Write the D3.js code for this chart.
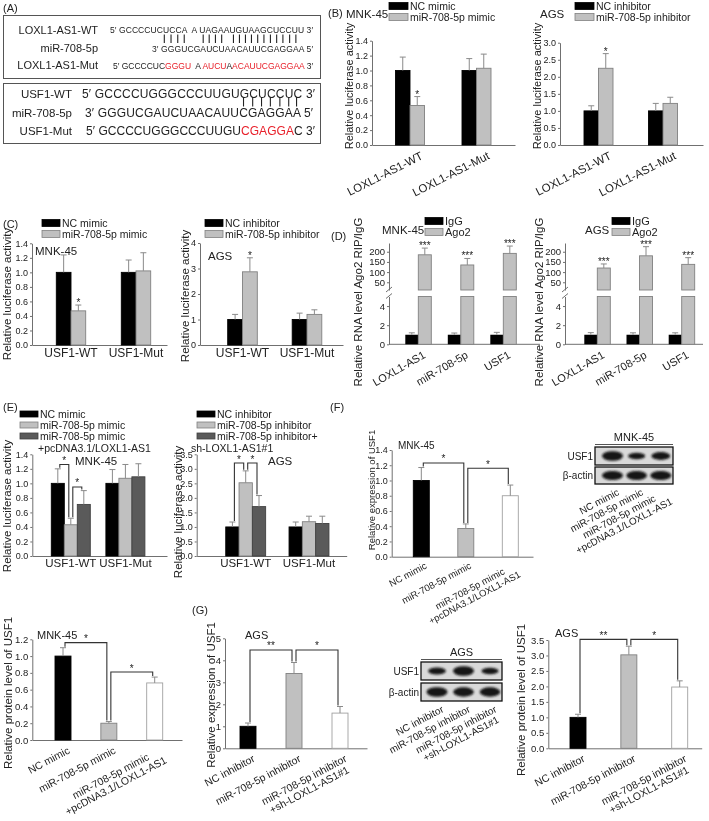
<!DOCTYPE html>
<html><head><meta charset="utf-8">
<script src="https://cdn.jsdelivr.net/npm/d3@7"></script>
<style>body{margin:0;background:#fff}svg{will-change:transform}text{font-family:Arial,"Liberation Sans",sans-serif;white-space:pre}</style>
</head><body><svg id="chart" width="709" height="821"></svg>
<script>
// ================= DATA =================
// (A) sequence alignment
const aBox1Labels = ["LOXL1-AS1-WT", "miR-708-5p", "LOXL1-AS1-Mut"];
const aBox1WT  = [["5′ GCCCCUCUCCA  A UAGAAUGUAAGCUCCUU 3′", 0]];
const aBox1Mir = [["3′ GGGUCGAUCUAACAUUCGAGGAA 5′", 0]];
const aBox1Mut = [["5′ GCCCCUC", 0], ["GGGU", 1], ["  A ", 0], ["AUCU", 1], ["A", 0], ["ACAUUCGAGGAA", 1], [" 3′", 0]];
const aBox1Pairs = [0, 1, 2, 3, 6, 7, 8, 9, 11, 12, 13, 14, 15, 16, 17, 18, 19, 20, 21];
const aBox2Labels = ["USF1-WT", "miR-708-5p", "USF1-Mut"];
const aBox2WT  = [["5′ GCCCCUGGGCCCUUGUGCUCCUC 3′", 0]];
const aBox2Mir = [["3′ GGGUCGAUCUAACAUUCGAGGAA 5′", 0]];
const aBox2Mut = [["5′ GCCCCUGGGCCCUUGU", 0], ["CGAGGA", 1], ["C 3′", 0]];
const aBox2Pairs = [16, 17, 18, 19, 20, 21, 22];

// (B) luciferase, LOXL1-AS1 reporters
const bCats = ["LOXL1-AS1-WT", "LOXL1-AS1-Mut"];
const bMnkNC = [1.0, 1.0],   bMnkNCErr = [0.18, 0.16];
const bMnkMimic = [0.53, 1.03], bMnkMimicErr = [0.12, 0.19], bMnkStars = ["*", ""];
const bAgsNC = [1.0, 1.0],   bAgsNCErr = [0.15, 0.22];
const bAgsInh = [2.25, 1.22], bAgsInhErr = [0.43, 0.18], bAgsStars = ["*", ""];
const bTicksMnk = [0, 0.2, 0.4, 0.6, 0.8, 1.0, 1.2, 1.4];
const bTicksAgs = [0, 0.5, 1.0, 1.5, 2.0, 2.5, 3.0];

// (C) luciferase, USF1 reporters
const cCats = ["USF1-WT", "USF1-Mut"];
const cMnkNC = [1.0, 1.0],  cMnkNCErr = [0.24, 0.17];
const cMnkMimic = [0.47, 1.02], cMnkMimicErr = [0.08, 0.25], cMnkStars = ["*", ""];
const cAgsNC = [1.0, 1.0],  cAgsNCErr = [0.2, 0.25];
const cAgsInh = [2.87, 1.2], cAgsInhErr = [0.55, 0.18], cAgsStars = ["*", ""];
const cTicksMnk = [0, 0.2, 0.4, 0.6, 0.8, 1.0, 1.2, 1.4];
const cTicksAgs = [0, 1, 2, 3, 4];

// (D) RIP
const dCats = ["LOXL1-AS1", "miR-708-5p", "USF1"];
const dMnkIgG = [1, 1, 1],        dMnkIgGErr = [0.2, 0.18, 0.25];
const dMnkAgo2 = [185, 135, 192], dMnkAgo2Err = [33, 32, 36];
const dAgsIgG = [1, 1, 1],        dAgsIgGErr = [0.22, 0.2, 0.2];
const dAgsAgo2 = [120, 180, 138], dAgsAgo2Err = [20, 45, 33];
const dStars = ["***", "***", "***"];
const dTicksLow = [0, 2, 4];
const dTicksHigh = [50, 100, 150, 200];

// (E) rescue luciferase
const eCats = ["USF1-WT", "USF1-Mut"];
const eMnkNC = [1.0, 1.0],    eMnkNCErr = [0.2, 0.19];
const eMnkMimic = [0.43, 1.07], eMnkMimicErr = [0.09, 0.19];
const eMnkPc = [0.71, 1.09],  eMnkPcErr = [0.19, 0.18];
const eAgsNC = [1.0, 1.0],    eAgsNCErr = [0.17, 0.17];
const eAgsInh = [2.52, 1.18], eAgsInhErr = [0.41, 0.19];
const eAgsSh = [1.7, 1.12],   eAgsShErr = [0.38, 0.25];
const eTicksMnk = [0, 0.2, 0.4, 0.6, 0.8, 1.0, 1.2, 1.4];
const eTicksAgs = [0, 0.5, 1.0, 1.5, 2.0, 2.5, 3.0, 3.5];
const eMnkBrackets = [{a: [0, 0], b: [0, 1], level: 1.26, label: "*"}, {a: [0, 1], b: [0, 2], level: 0.95, label: "*"}];
const eAgsBrackets = [{a: [0, 0], b: [0, 1], level: 3.2, label: "*"}, {a: [0, 1], b: [0, 2], level: 3.2, label: "*"}];

// (F) MNK-45 mRNA / protein
const fCats = ["NC mimic", "miR-708-5p mimic", "miR-708-5p mimic\n+pcDNA3.1/LOXL1-AS1"];
const fExpr = [1.0, 0.37, 0.8], fExprErr = [0.17, 0.06, 0.14];
const fExprTicks = [0, 0.2, 0.4, 0.6, 0.8, 1.0, 1.2, 1.4];
const fExprBrackets = [{a: [0, 0], b: [1, 0], level: 1.23, label: "*"}, {a: [1, 0], b: [2, 0], level: 1.16, label: "*"}];
const fProt = [1.0, 0.2, 0.68], fProtErr = [0.1, 0.02, 0.07];
const fProtTicks = [0, 0.2, 0.4, 0.6, 0.8, 1.0, 1.2];
const fProtBrackets = [{a: [0, 0], b: [1, 0], level: 1.16, label: "*"}, {a: [1, 0], b: [2, 0], level: 0.81, label: "*"}];
const fBlotUSF1 = [1.0, 0.45, 0.7], fBlotActin = [1.0, 0.95, 1.0];

// (G) AGS mRNA / protein
const gCats = ["NC inhibitor", "miR-708-5p inhibitor", "miR-708-5p inhibitor\n+sh-LOXL1-AS1#1"];
const gExpr = [1.0, 3.4, 1.6], gExprErr = [0.15, 0.5, 0.3];
const gExprTicks = [0, 1, 2, 3, 4, 5];
const gExprBrackets = [{a: [0, 0], b: [1, 0], level: 4.47, label: "**"}, {a: [1, 0], b: [2, 0], level: 4.47, label: "*"}];
const gProt = [1.0, 3.02, 1.98], gProtErr = [0.1, 0.28, 0.2];
const gProtTicks = [0, 0.5, 1.0, 1.5, 2.0, 2.5, 3.0, 3.5];
const gProtBrackets = [{a: [0, 0], b: [1, 0], level: 3.52, label: "**"}, {a: [1, 0], b: [2, 0], level: 3.52, label: "*"}];
const gBlotUSF1 = [0.55, 1.0, 0.45], gBlotActin = [1.0, 0.95, 0.95];

// ================= DRAWING =================
const svg = d3.select("#chart");
svg.append("rect").attr("width", 709).attr("height", 821).attr("fill", "#fff");
const TXT = "#222", AX = "#707070", ERR = "#8a8a8a";
const ST = {
  black: {fill: "#000", stroke: "#000"},
  grey:  {fill: "#c0c0c0", stroke: "#808080"},
  dark:  {fill: "#5a5a5a", stroke: "#404040"},
  white: {fill: "#fff", stroke: "#a0a0a0"}
};
const f1 = d3.format(".1f"), f0 = d3.format("d");
const defs = svg.append("defs");
defs.append("filter").attr("id", "blur").attr("x", "-30%").attr("y", "-80%").attr("width", "160%").attr("height", "260%")
  .append("feGaussianBlur").attr("stdDeviation", 0.9);

function txt(x, y, s, fs, opt = {}) {
  return svg.append("text").attr("x", x).attr("y", y).attr("font-size", fs)
    .attr("fill", opt.fill || TXT).attr("text-anchor", opt.anchor || "start").text(s);
}
function yLabel(s, x, yc, fs) {
  svg.append("text").attr("transform", `translate(${x},${yc}) rotate(-90)`).attr("text-anchor", "middle")
    .attr("dy", "0.35em").attr("font-size", fs).attr("fill", TXT).text(s);
}
function rotLabel(g, x, y, s, fs, angle) {
  const lines = s.split("\n");
  const grp = g.append("g").attr("transform", `translate(${x},${y}) rotate(${angle})`);
  const ts = lines.map((l, i) => grp.append("text").attr("y", i * fs * 1.05).attr("dy", "0.72em")
    .attr("font-size", fs).attr("fill", TXT).attr("text-anchor", "middle").text(l));
  const wm = d3.max(ts, t => t.node().getComputedTextLength());
  ts.forEach(t => t.attr("x", -wm / 2));
}
function styleAxis(sel, fs) {
  sel.attr("font-family", 'Arial,"Liberation Sans",sans-serif').attr("font-size", fs);
  sel.select(".domain").attr("stroke", AX);
  sel.selectAll(".tick line").attr("stroke", AX);
  sel.selectAll(".tick text").attr("fill", TXT);
}
function legend(x, y, items, opt) {
  items.forEach((it, i) => {
    const yy = y + i * opt.row;
    svg.append("rect").attr("x", x).attr("y", yy - opt.h / 2).attr("width", opt.w).attr("height", opt.h)
      .attr("fill", ST[it.style].fill).attr("stroke", ST[it.style].stroke).attr("stroke-width", 0.8);
    txt(x + opt.w + 2, yy + opt.fs * 0.36, it.label, opt.fs);
  });
}

function barChart(cfg) {
  const g = svg.append("g");
  const y = d3.scaleLinear().domain([0, cfg.max]).range([cfg.y0, cfg.yTop]);
  const xc = d3.scalePoint().domain(cfg.cats).range(cfg.centers);
  const n = cfg.series.length;
  const bx = (ci, si) => xc(cfg.cats[ci]) + (si - (n - 1) / 2) * cfg.bw;
  const ax = g.append("g").attr("transform", `translate(${cfg.left},0)`)
    .call(d3.axisLeft(y).tickValues(cfg.ticks).tickFormat(cfg.fmt).tickSize(2).tickSizeOuter(0).tickPadding(2));
  styleAxis(ax, cfg.tickFs);
  const xl = d3.scaleLinear().range([cfg.left, cfg.right]);
  const xa = g.append("g").attr("transform", `translate(0,${cfg.y0})`).call(d3.axisBottom(xl).tickValues([]).tickSizeOuter(0));
  styleAxis(xa, cfg.tickFs);
  const top = (ci, si) => { const s = cfg.series[si]; return s.vals[ci] + s.errs[ci]; };
  cfg.series.forEach((s, si) => {
    const sty = i => ST[s.styles ? s.styles[i] : s.style];
    g.selectAll(null).data(s.vals).join("rect")
      .attr("x", (d, i) => bx(i, si) - cfg.bw / 2).attr("width", cfg.bw)
      .attr("y", d => y(d)).attr("height", d => y(0) - y(d))
      .attr("fill", (d, i) => sty(i).fill).attr("stroke", (d, i) => sty(i).stroke).attr("stroke-width", 0.9);
    g.selectAll(null).data(s.vals).join("path")
      .attr("d", (d, i) => `M${bx(i, si)},${y(d)}V${y(d + s.errs[i])}M${bx(i, si) - 3},${y(d + s.errs[i])}h6`)
      .attr("stroke", ERR).attr("fill", "none");
    if (s.stars) g.selectAll(null).data(s.vals).join("text")
      .attr("x", (d, i) => bx(i, si)).attr("y", (d, i) => y(d + s.errs[i]) + 1)
      .attr("text-anchor", "middle").attr("font-size", 10).attr("fill", TXT).text((d, i) => s.stars[i]);
  });
  (cfg.brackets || []).forEach(b => {
    const xa_ = bx(b.a[0], b.a[1]) + 2, xb_ = bx(b.b[0], b.b[1]) - 2, ly = y(b.level);
    g.append("path").attr("d", `M${xa_},${y(top(b.a[0], b.a[1])) - 1}V${ly}H${xb_}V${y(top(b.b[0], b.b[1])) - 1}`)
      .attr("fill", "none").attr("stroke", "#333").attr("stroke-width", 1.1);
    g.append("text").attr("x", (xa_ + xb_) / 2).attr("y", ly - 0.5).attr("text-anchor", "middle")
      .attr("font-size", 10).attr("fill", TXT).text(b.label);
  });
  if (cfg.xlab.type === "h") {
    cfg.cats.forEach(c => g.append("text").attr("x", xc(c)).attr("y", cfg.y0 + cfg.xlab.dy).attr("text-anchor", "middle")
      .attr("font-size", cfg.xlab.fs).attr("fill", TXT).text(c));
  } else {
    cfg.cats.forEach(c => rotLabel(g, xc(c) + cfg.xlab.dx, cfg.y0 + cfg.xlab.dy, c, cfg.xlab.fs, cfg.xlab.angle));
  }
  if (cfg.title) txt(cfg.title.x, cfg.title.y, cfg.title.text, cfg.title.fs);
  yLabel(cfg.ylab.text, cfg.ylab.x, cfg.ylab.y || (cfg.y0 + cfg.yTop) / 2, cfg.ylab.fs);
}

function brokenChart(cfg) {
  const g = svg.append("g");
  const yL = d3.scaleLinear().domain([0, 5]).range([cfg.y0, cfg.yLowTop]);
  const yU = d3.scaleLinear().domain(cfg.uDomain).range(cfg.uRange);
  const xc = d3.scalePoint().domain(cfg.cats).range(cfg.centers);
  const bx = (i, s) => xc(cfg.cats[i]) + (s - 0.5) * cfg.bw;
  const a1 = g.append("g").attr("transform", `translate(${cfg.left},0)`)
    .call(d3.axisLeft(yL).tickValues(cfg.lowTicks).tickFormat(f0).tickSize(2).tickSizeOuter(0).tickPadding(2));
  styleAxis(a1, 9.5);
  const a2 = g.append("g").attr("transform", `translate(${cfg.left},0)`)
    .call(d3.axisLeft(yU).tickValues(cfg.highTicks).tickFormat(f0).tickSize(2).tickSizeOuter(0).tickPadding(2));
  styleAxis(a2, 9.5);
  g.append("path").attr("d", `M${cfg.left - 3},${cfg.yLowTop + 2}l6,-5M${cfg.left - 3},${cfg.uRange[0] + 2}l6,-5`)
    .attr("stroke", AX).attr("fill", "none");
  g.append("line").attr("x1", cfg.left).attr("x2", cfg.right).attr("y1", cfg.y0).attr("y2", cfg.y0).attr("stroke", AX);
  // IgG (black)
  g.selectAll(null).data(cfg.igg).join("rect").attr("x", (d, i) => bx(i, 0) - cfg.bw / 2).attr("width", cfg.bw)
    .attr("y", d => yL(d)).attr("height", d => yL(0) - yL(d)).attr("fill", "#000");
  g.selectAll(null).data(cfg.igg).join("path")
    .attr("d", (d, i) => `M${bx(i, 0)},${yL(d)}V${yL(d + cfg.iggErr[i])}M${bx(i, 0) - 3},${yL(d + cfg.iggErr[i])}h6`)
    .attr("stroke", ERR).attr("fill", "none");
  // Ago2 (grey) lower full segment + upper segment
  g.selectAll(null).data(cfg.ago).join("rect").attr("x", (d, i) => bx(i, 1) - cfg.bw / 2).attr("width", cfg.bw)
    .attr("y", yL(5)).attr("height", yL(0) - yL(5)).attr("fill", ST.grey.fill).attr("stroke", ST.grey.stroke).attr("stroke-width", 0.9);
  g.selectAll(null).data(cfg.ago).join("rect").attr("x", (d, i) => bx(i, 1) - cfg.bw / 2).attr("width", cfg.bw)
    .attr("y", d => yU(d)).attr("height", d => yU(cfg.uDomain[0]) - yU(d)).attr("fill", ST.grey.fill).attr("stroke", ST.grey.stroke).attr("stroke-width", 0.9);
  g.selectAll(null).data(cfg.ago).join("path")
    .attr("d", (d, i) => `M${bx(i, 1)},${yU(d)}V${yU(d + cfg.agoErr[i])}M${bx(i, 1) - 3},${yU(d + cfg.agoErr[i])}h6`)
    .attr("stroke", ERR).attr("fill", "none");
  g.selectAll(null).data(cfg.ago).join("text").attr("x", (d, i) => bx(i, 1)).attr("y", (d, i) => yU(d + cfg.agoErr[i]) + 1)
    .attr("text-anchor", "middle").attr("font-size", 10).attr("fill", TXT).text((d, i) => cfg.stars[i]);
  cfg.cats.forEach(c => rotLabel(g, xc(c) + 4, cfg.y0 + 6, c, 11, -30));
  yLabel("Relative RNA level Ago2 RIP/IgG", cfg.ylabX, 302, 11.5);
}

function blot(cfg) {
  const g = svg.append("g");
  const lane = d3.scalePoint().domain(d3.range(3)).range(cfg.lanes);
  cfg.rows.forEach(r => {
    g.append("rect").attr("x", cfg.x0).attr("y", r.y0).attr("width", cfg.x1 - cfg.x0).attr("height", r.y1 - r.y0)
      .attr("fill", "#d9d9d9").attr("stroke", "#111").attr("stroke-width", 1.3);
    const h = r.y1 - r.y0;
    g.selectAll(null).data(r.bands).join("ellipse")
      .attr("cx", (d, i) => lane(i)).attr("cy", (r.y0 + r.y1) / 2)
      .attr("rx", d => 7 + 3.5 * d).attr("ry", d => h * (0.1 + 0.17 * d))
      .attr("fill", "#141414").attr("filter", "url(#blur)");
    g.append("text").attr("x", cfg.x0 - 2).attr("y", (r.y0 + r.y1) / 2 + 3.5).attr("text-anchor", "end")
      .attr("font-size", 10).attr("fill", TXT).text(r.label);
  });
  g.append("text").attr("x", (cfg.x0 + cfg.x1) / 2).attr("y", cfg.titleY).attr("text-anchor", "middle")
    .attr("font-size", 11).attr("fill", TXT).text(cfg.title);
  g.append("line").attr("x1", cfg.x0).attr("x2", cfg.x1).attr("y1", cfg.titleY + 3.5).attr("y2", cfg.titleY + 3.5).attr("stroke", "#555");
  cfg.labels.forEach((l, i) => rotLabel(g, lane(i) + 4, cfg.rows[1].y1 + 4, l, 10, -28));
}

// ---------- (A) ----------
txt(3, 12, "(A)", 11);
function seqLine(x, y, segs, len, fs) {
  const t = svg.append("text").attr("x", x).attr("y", y).attr("font-size", fs).attr("fill", TXT)
    .attr("textLength", len).attr("lengthAdjust", "spacing");
  segs.forEach(s => t.append("tspan").attr("fill", s[1] ? "#e8202a" : TXT).text(s[0]));
  return t;
}
function pairBars(t, pairs, y1, y2) {
  const node = t.node();
  pairs.forEach(k => {
    const i = k + 3;
    const p0 = node.getStartPositionOfChar(i).x, p1 = node.getEndPositionOfChar(i).x;
    svg.append("line").attr("x1", (p0 + p1) / 2).attr("x2", (p0 + p1) / 2).attr("y1", y1).attr("y2", y2)
      .attr("stroke", "#222").attr("stroke-width", 1.1);
  });
}
svg.append("rect").attr("x", 3.5).attr("y", 15.5).attr("width", 317).attr("height", 63).attr("fill", "none").attr("stroke", "#555");
svg.append("rect").attr("x", 3.5).attr("y", 83.5).attr("width", 317).attr("height", 60).attr("fill", "none").attr("stroke", "#555");
[33.5, 52, 69].forEach((yy, i) => txt(98, yy, aBox1Labels[i], 11, {anchor: "end"}));
seqLine(110, 33, aBox1WT, 203, 8.5);
const mir1 = seqLine(152, 51.5, aBox1Mir, 161, 8.5);
seqLine(113, 69, aBox1Mut, 200, 8.5);
pairBars(mir1, aBox1Pairs, 34.5, 43);
[98, 117, 135].forEach((yy, i) => txt(72, yy, aBox2Labels[i], 11.5, {anchor: "end"}));
seqLine(82, 98, aBox2WT, 233, 12);
const mir2 = seqLine(85, 117, aBox2Mir, 228, 12);
seqLine(86, 135, aBox2Mut, 229, 12);
pairBars(mir2, aBox2Pairs, 97, 106.5);

// ---------- (B) ----------
txt(328, 17, "(B)", 11);
txt(346, 18, "MNK-45", 11.5);
legend(389, 6, [{label: "NC mimic", style: "black"}, {label: "miR-708-5p mimic", style: "grey"}], {w: 19, h: 7, row: 11, fs: 10.5});
barChart({left: 372, right: 515, y0: 145, yTop: 40.7, max: 1.4, ticks: bTicksMnk, fmt: f1, tickFs: 9,
  cats: bCats, centers: [410, 476.5], bw: 14.5,
  series: [{vals: bMnkNC, errs: bMnkNCErr, style: "black"}, {vals: bMnkMimic, errs: bMnkMimicErr, style: "grey", stars: bMnkStars}],
  xlab: {type: "r", dx: 10, dy: 6, fs: 11.5, angle: -27}, ylab: {text: "Relative luciferase activity", x: 349, y: 86, fs: 11}});
txt(540, 18, "AGS", 11.5);
legend(575, 6, [{label: "NC inhibitor", style: "black"}, {label: "miR-708-5p inhibitor", style: "grey"}], {w: 19, h: 7, row: 11, fs: 10.5});
barChart({left: 560, right: 703, y0: 145, yTop: 42.7, max: 3.0, ticks: bTicksAgs, fmt: f1, tickFs: 9,
  cats: bCats, centers: [598.5, 663], bw: 14.5,
  series: [{vals: bAgsNC, errs: bAgsNCErr, style: "black"}, {vals: bAgsInh, errs: bAgsInhErr, style: "grey", stars: bAgsStars}],
  xlab: {type: "r", dx: 10, dy: 6, fs: 11.5, angle: -27}, ylab: {text: "Relative luciferase activity", x: 537, y: 86, fs: 11}});

// ---------- (C) ----------
txt(3, 228, "(C)", 11);
legend(42, 223, [{label: "NC mimic", style: "black"}, {label: "miR-708-5p mimic", style: "grey"}], {w: 18, h: 7, row: 11, fs: 10.5});
barChart({left: 32, right: 167, y0: 345, yTop: 243.3, max: 1.4, ticks: cTicksMnk, fmt: f1, tickFs: 9,
  cats: cCats, centers: [71, 136], bw: 14.7,
  series: [{vals: cMnkNC, errs: cMnkNCErr, style: "black"}, {vals: cMnkMimic, errs: cMnkMimicErr, style: "grey", stars: cMnkStars}],
  xlab: {type: "h", dy: 12, fs: 12}, title: {text: "MNK-45", x: 35, y: 255, fs: 11.5},
  ylab: {text: "Relative luciferase activity", x: 7, y: 294, fs: 11.5}});
legend(205, 223, [{label: "NC inhibitor", style: "black"}, {label: "miR-708-5p inhibitor", style: "grey"}], {w: 18, h: 7, row: 11, fs: 10.5});
barChart({left: 200, right: 343, y0: 345, yTop: 243, max: 4, ticks: cTicksAgs, fmt: f0, tickFs: 9,
  cats: cCats, centers: [242.5, 307], bw: 14.8,
  series: [{vals: cAgsNC, errs: cAgsNCErr, style: "black"}, {vals: cAgsInh, errs: cAgsInhErr, style: "grey", stars: cAgsStars}],
  xlab: {type: "h", dy: 12, fs: 12}, title: {text: "AGS", x: 208, y: 260, fs: 11.5},
  ylab: {text: "Relative luciferase activity", x: 185, y: 296, fs: 11.5}});

// ---------- (D) ----------
txt(331, 240, "(D)", 11);
txt(382, 234, "MNK-45", 11.5);
legend(425, 221, [{label: "IgG", style: "black"}, {label: "Ago2", style: "grey"}], {w: 18, h: 7, row: 11, fs: 11});
brokenChart({left: 389, right: 540, y0: 344.3, yLowTop: 296.5, uDomain: [12, 243], uRange: [290, 243],
  cats: dCats, centers: [418.3, 503.3], bw: 13, lowTicks: dTicksLow, highTicks: dTicksHigh,
  igg: dMnkIgG, iggErr: dMnkIgGErr, ago: dMnkAgo2, agoErr: dMnkAgo2Err, stars: dStars, ylabX: 358});
txt(585, 234, "AGS", 11.5);
legend(612, 221, [{label: "IgG", style: "black"}, {label: "Ago2", style: "grey"}], {w: 18, h: 7, row: 11, fs: 11});
brokenChart({left: 565, right: 703, y0: 344.3, yLowTop: 296.5, uDomain: [12, 243], uRange: [290, 243],
  cats: dCats, centers: [597.3, 681.7], bw: 13, lowTicks: dTicksLow, highTicks: dTicksHigh,
  igg: dAgsIgG, iggErr: dAgsIgGErr, ago: dAgsAgo2, agoErr: dAgsAgo2Err, stars: dStars, ylabX: 539});

// ---------- (E) ----------
txt(3, 411, "(E)", 11);
legend(20, 414, [{label: "NC mimic", style: "black"}, {label: "miR-708-5p mimic", style: "grey"}, {label: "miR-708-5p mimic", style: "dark"}], {w: 18, h: 6, row: 11, fs: 10.5});
txt(38, 452, "+pcDNA3.1/LOXL1-AS1", 10.5);
barChart({left: 32.3, right: 167, y0: 556, yTop: 454.3, max: 1.4, ticks: eTicksMnk, fmt: f1, tickFs: 9,
  cats: eCats, centers: [70.8, 125.4], bw: 13,
  series: [{vals: eMnkNC, errs: eMnkNCErr, style: "black"}, {vals: eMnkMimic, errs: eMnkMimicErr, style: "grey"}, {vals: eMnkPc, errs: eMnkPcErr, style: "dark"}],
  brackets: eMnkBrackets, xlab: {type: "h", dy: 11, fs: 11.5}, title: {text: "MNK-45", x: 75, y: 465, fs: 11.5},
  ylab: {text: "Relative luciferase activity", x: 7, y: 506, fs: 11.5}});
legend(197, 414, [{label: "NC inhibitor", style: "black"}, {label: "miR-708-5p inhibitor", style: "grey"}, {label: "miR-708-5p inhibitor+", style: "dark"}], {w: 18, h: 6, row: 11, fs: 10.5});
txt(191, 452, "sh-LOXL1-AS1#1", 10.5);
barChart({left: 196.7, right: 346.7, y0: 556, yTop: 454.3, max: 3.5, ticks: eTicksAgs, fmt: f1, tickFs: 9,
  cats: eCats, centers: [245.7, 309], bw: 13.3,
  series: [{vals: eAgsNC, errs: eAgsNCErr, style: "black"}, {vals: eAgsInh, errs: eAgsInhErr, style: "grey"}, {vals: eAgsSh, errs: eAgsShErr, style: "dark"}],
  brackets: eAgsBrackets, xlab: {type: "h", dy: 11, fs: 11.5}, title: {text: "AGS", x: 268, y: 465, fs: 11.5},
  ylab: {text: "Relative luciferase activity", x: 178, y: 512, fs: 11.5}});

// ---------- (F) ----------
txt(330, 411, "(F)", 11);
barChart({left: 391.7, right: 533, y0: 556.7, yTop: 450, max: 1.4, ticks: fExprTicks, fmt: f1, tickFs: 9,
  cats: fCats, centers: [421.3, 510.3], bw: 16,
  series: [{vals: fExpr, errs: fExprErr, styles: ["black", "grey", "white"]}],
  brackets: fExprBrackets, xlab: {type: "r", dx: 3, dy: 5, fs: 9.5, angle: -28}, title: {text: "MNK-45", x: 398, y: 449, fs: 10},
  ylab: {text: "Relative expression of USF1", x: 372, y: 490, fs: 9.5}});
blot({x0: 595, x1: 673, lanes: [612.5, 660.8], title: "MNK-45", titleY: 441,
  rows: [{label: "USF1", y0: 447, y1: 465, bands: fBlotUSF1}, {label: "β-actin", y0: 467, y1: 484, bands: fBlotActin}],
  labels: fCats});
barChart({left: 32.3, right: 182, y0: 740, yTop: 639.3, max: 1.2, ticks: fProtTicks, fmt: f1, tickFs: 9.5,
  cats: fCats, centers: [63, 154.7], bw: 16,
  series: [{vals: fProt, errs: fProtErr, styles: ["black", "grey", "white"]}],
  brackets: fProtBrackets, xlab: {type: "r", dx: 4, dy: 6, fs: 10.5, angle: -28}, title: {text: "MNK-45", x: 37, y: 639, fs: 11},
  ylab: {text: "Relative protein level of USF1", x: 8, y: 693, fs: 11.5}});

// ---------- (G) ----------
txt(192, 614, "(G)", 11);
barChart({left: 225, right: 367, y0: 748.3, yTop: 638.3, max: 5, ticks: gExprTicks, fmt: f0, tickFs: 9.5,
  cats: gCats, centers: [248, 340], bw: 16,
  series: [{vals: gExpr, errs: gExprErr, styles: ["black", "grey", "white"]}],
  brackets: gExprBrackets, xlab: {type: "r", dx: 4, dy: 6, fs: 10.5, angle: -28}, title: {text: "AGS", x: 245, y: 639, fs: 11},
  ylab: {text: "Relative expression of USF1", x: 211, y: 695, fs: 11.5}});
blot({x0: 421, x1: 502, lanes: [437, 490], title: "AGS", titleY: 656,
  rows: [{label: "USF1", y0: 662, y1: 680, bands: gBlotUSF1}, {label: "β-actin", y0: 683, y1: 701, bands: gBlotActin}],
  labels: gCats});
barChart({left: 548.3, right: 701.7, y0: 748.3, yTop: 640, max: 3.5, ticks: gProtTicks, fmt: f1, tickFs: 9.5,
  cats: gCats, centers: [578, 679.7], bw: 16,
  series: [{vals: gProt, errs: gProtErr, styles: ["black", "grey", "white"]}],
  brackets: gProtBrackets, xlab: {type: "r", dx: 4, dy: 6, fs: 10.5, angle: -28}, title: {text: "AGS", x: 555, y: 637, fs: 11},
  ylab: {text: "Relative protein level of USF1", x: 521, y: 700, fs: 11.5}});
</script></body></html>
